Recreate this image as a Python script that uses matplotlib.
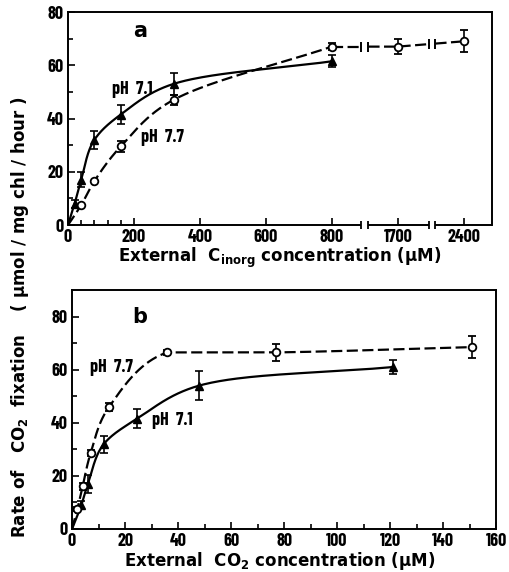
import numpy as np
import matplotlib
matplotlib.use("Agg")
import matplotlib.pyplot as plt
import matplotlib.transforms as mtransforms

# panel a: rate vs external inorganic carbon (uM)
ci_71 = [20, 40, 80, 160, 320, 800]
rate_a_71 = [8, 17, 32, 41.5, 53, 61.5]
err_a_71 = [1.5, 2.8, 3.5, 3.4, 4.2, 2.2]
ci_77 = [40, 80, 160, 320, 800, 1700, 2400]
rate_a_77 = [7.5, 16.5, 29.5, 47, 67, 67, 69]
err_a_77 = [0, 0, 1.9, 1.9, 1.3, 2.8, 4.1]
xticks_a = [0, 200, 400, 600, 800, 1700, 2400]
xminor_a = [40, 80, 120, 160]

# panel b: rate vs external CO2 (uM)
co2_71 = [3.5, 6, 12, 24.5, 48, 121]
rate_b_71 = [9, 17, 32, 41.5, 54, 61]
err_b_71 = [1.5, 3.4, 3.2, 3.6, 5.5, 2.7]
co2_77 = [2, 4, 7, 14, 36, 77, 151]
rate_b_77 = [7.5, 16, 28.5, 46, 66.5, 66.5, 68.5]
err_b_77 = [0.8, 1.2, 1.2, 1.5, 0.8, 3.1, 4.2]

NARROW = ['Barlow Condensed', 'DejaVu Sans']
plt.rcParams['font.weight'] = 'bold'
plt.rcParams['mathtext.default'] = 'bf'


def smooth(u, v, n=60):
    # centripetal Catmull-Rom through the points (u, v already normalised)
    P = np.column_stack([u, v]).astype(float)
    P = np.vstack([2 * P[0] - P[1], P, 2 * P[-1] - P[-2]])
    out = []
    for k in range(1, len(P) - 2):
        p0, p1, p2, p3 = P[k - 1], P[k], P[k + 1], P[k + 2]
        t0 = 0.0
        t1 = t0 + np.linalg.norm(p1 - p0) ** 0.5
        t2 = t1 + np.linalg.norm(p2 - p1) ** 0.5
        t3 = t2 + np.linalg.norm(p3 - p2) ** 0.5
        t = np.linspace(t1, t2, n)[:, None]
        a1 = (t1 - t) / (t1 - t0) * p0 + (t - t0) / (t1 - t0) * p1
        a2 = (t2 - t) / (t2 - t1) * p1 + (t - t1) / (t2 - t1) * p2
        a3 = (t3 - t) / (t3 - t2) * p2 + (t - t2) / (t3 - t2) * p3
        b1 = (t2 - t) / (t2 - t0) * a1 + (t - t0) / (t2 - t0) * a2
        b2 = (t3 - t) / (t3 - t1) * a2 + (t - t1) / (t3 - t1) * a3
        c = (t2 - t) / (t2 - t1) * b1 + (t - t1) / (t2 - t1) * b2
        # no overshoot past the end points of the piece
        c[:, 1] = np.clip(c[:, 1], min(p1[1], p2[1]), max(p1[1], p2[1]))
        out.append(c)
    c = np.vstack(out)
    return c[:, 0], c[:, 1]


def fwd(x):
    x = np.asarray(x, float)
    return np.where(x <= 800, x, np.where(x <= 1700, 800 + (x - 800) * 200 / 900,
                                          1000 + (x - 1700) * 200 / 700))


def inv(u):
    u = np.asarray(u, float)
    return np.where(u <= 800, u, np.where(u <= 1000, 800 + (u - 800) * 900 / 200,
                                          1700 + (u - 1000) * 700 / 200))


def curve(ax, x, y, **kw):
    # smooth in normalised axes space, then map back to data
    x0, x1 = ax.get_xlim()
    y0, y1 = ax.get_ylim()
    u = ax.transScale.transform(np.column_stack([x, y]))
    lo = ax.transScale.transform([[x0, y0]])[0]
    hi = ax.transScale.transform([[x1, y1]])[0]
    su, sv = smooth((u[:, 0] - lo[0]) / (hi[0] - lo[0]), (u[:, 1] - lo[1]) / (hi[1] - lo[1]))
    ax.plot(su, sv, transform=ax.transAxes, color='black', **kw)


def style(ax):
    for s in ax.spines.values():
        s.set_linewidth(1.4)
    ax.tick_params(which='both', direction='in', width=1.2, pad=3)
    ax.tick_params(which='major', length=5)
    ax.tick_params(which='minor', length=3.5)
    ax.tick_params(top=False, right=False)
    for lab in ax.get_xticklabels() + ax.get_yticklabels():
        lab.set_family(NARROW)
        lab.set_fontsize(13)
        lab.set_fontweight('bold')


fig = plt.figure(figsize=(5.09, 5.72), dpi=100)
axa = fig.add_axes([0.1336, 0.6066, 0.833, 0.3724])
axb = fig.add_axes([0.1415, 0.0752, 0.833, 0.4178])

lw = 1.6
dash = (5, 2)

# ---- panel a
axa.set_xscale('function', functions=(fwd, inv))
axa.set_xlim(0, 2700)
axa.set_ylim(0, 80)
axa.set_xticks(xticks_a)
axa.set_xticks(xminor_a, minor=True)
axa.set_yticks([0, 20, 40, 60, 80])
axa.set_yticks([10, 30, 50, 70], minor=True)

curve(axa, [0] + ci_71, [0] + rate_a_71, lw=lw)
n = ci_77.index(800) + 1
curve(axa, [0] + ci_77[:n], [0] + rate_a_77[:n], lw=lw, dashes=dash)

breaks = [(1200, 1300), (2030, 2100)]
tail_x = ci_77[n - 1:]
tail_y = rate_a_77[n - 1:]
segs = [tail_x[0]] + [b for pair in breaks for b in pair] + [tail_x[-1]]
for k in range(0, len(segs), 2):
    x0, x1 = segs[k], segs[k + 1]
    pts = [x0] + [c for c in tail_x if x0 < c < x1] + [x1]
    axa.plot(pts, np.interp(pts, tail_x, tail_y), color='black', lw=lw, dashes=dash)
for pair in breaks:
    axa.plot(pair, np.interp(pair, tail_x, tail_y), ls='none', marker='|',
             ms=7, mew=1.4, color='black')

axa.errorbar(ci_71, rate_a_71, yerr=err_a_71, fmt='^', color='black', ms=6,
             capsize=3, elinewidth=1.2, capthick=1.2, zorder=4)
axa.errorbar(ci_77, rate_a_77, yerr=err_a_77, fmt='o', mfc='white', mec='black',
             color='black', ms=5.5, mew=1.3, capsize=3, elinewidth=1.2,
             capthick=1.2, zorder=4)

# broken bottom axis
axa.spines['bottom'].set_visible(False)
trans = mtransforms.blended_transform_factory(axa.transData, axa.transAxes)
ends = [0] + [b for pair in breaks for b in pair] + [2700]
for k in range(0, len(ends), 2):
    axa.plot(ends[k:k + 2], [0, 0], transform=trans, color='black', lw=1.4,
             clip_on=False, solid_capstyle='butt')
for pair in breaks:
    axa.plot(pair, [0, 0], transform=trans, ls='none', marker='|', ms=6,
             mew=1.3, color='black', clip_on=False)

axa.text(218, 73, 'a', fontsize=15, fontweight='bold', ha='center', va='center')
axa.text(195, 51, 'pH  7.1', fontsize=13, fontweight='bold', family=NARROW,
         ha='center', va='center')
axa.text(285, 33, 'pH  7.7', fontsize=13, fontweight='bold', family=NARROW,
         ha='center', va='center')
style(axa)

# ---- panel b
axb.set_xlim(0, 160)
axb.set_ylim(0, 90)
axb.set_xticks(range(0, 161, 20))
axb.set_xticks(range(10, 160, 20), minor=True)
axb.set_yticks([0, 20, 40, 60, 80])
axb.set_yticks([10, 30, 50, 70], minor=True)

curve(axb, [0] + co2_71, [0] + rate_b_71, lw=lw)
curve(axb, [0] + co2_77, [0] + rate_b_77, lw=lw, dashes=dash)
axb.errorbar(co2_71, rate_b_71, yerr=err_b_71, fmt='^', color='black', ms=6,
             capsize=3, elinewidth=1.2, capthick=1.2, zorder=4)
axb.errorbar(co2_77, rate_b_77, yerr=err_b_77, fmt='o', mfc='white', mec='black',
             color='black', ms=5.5, mew=1.3, capsize=3, elinewidth=1.2,
             capthick=1.2, zorder=4)

axb.text(25.7, 80, 'b', fontsize=15, fontweight='bold', ha='center', va='center')
axb.text(15, 61, 'pH  7.7', fontsize=13, fontweight='bold', family=NARROW,
         ha='center', va='center')
axb.text(37.7, 41, 'pH  7.1', fontsize=13, fontweight='bold', family=NARROW,
         ha='center', va='center')
style(axb)

fig.text(0.55, 1 - 258 / 572, 'External  C$_{inorg}$ concentration (µM)',
         fontsize=12, fontweight='bold', ha='center', va='center')
fig.text(0.55, 1 - 561 / 572, 'External  CO$_2$ concentration (µM)',
         fontsize=12, fontweight='bold', ha='center', va='center')
fig.text(0.04, 1 - 317 / 572,
         'Rate of   CO$_2$  fixation    ( µmol / mg chl / hour )',
         fontsize=12, fontweight='bold', rotation=90, ha='center', va='center')

fig.savefig('out.png', dpi=100)
